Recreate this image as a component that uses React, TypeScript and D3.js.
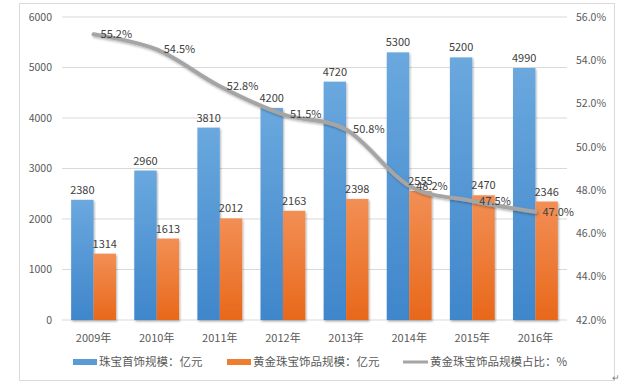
import React from 'react';
import * as d3 from 'd3';

const years = ['2009年', '2010年', '2011年', '2012年', '2013年', '2014年', '2015年', '2016年'];
const jewelryScale = [2380, 2960, 3810, 4200, 4720, 5300, 5200, 4990];
const goldScale = [1314, 1613, 2012, 2163, 2398, 2555, 2470, 2346];
const goldShare = [55.2, 54.5, 52.8, 51.5, 50.8, 48.2, 47.5, 47.0];
const leftTicks = [0, 1000, 2000, 3000, 4000, 5000, 6000];
const rightTicks = [42, 44, 46, 48, 50, 52, 54, 56];
const legendLabels = ['珠宝首饰规模：亿元', '黄金珠宝饰品规模：亿元', '黄金珠宝饰品规模占比：%'];

const width = 626;
const height = 384;
const plot = { left: 62, right: 567, top: 17, bottom: 320 };
const font = '"Noto Sans CJK SC", "Noto Sans", sans-serif';
const textColor = '#595959';

const App = () => {
  const x = d3.scaleBand().domain(years).range([plot.left, plot.right]).paddingInner(0.29).paddingOuter(0.145);
  const yLeft = d3.scaleLinear().domain([0, 6000]).range([plot.bottom, plot.top]);
  const yRight = d3.scaleLinear().domain([42, 56]).range([plot.bottom, plot.top]);
  const barW = x.bandwidth() / 2;
  const cx = (y: string) => (x(y) as number) + x.bandwidth() / 2;

  // excel-style smoothed line
  const line = d3.line<number>()
    .x((_, i) => cx(years[i]))
    .y(d => yRight(d))
    .curve(d3.curveCatmullRom.alpha(0));

  return (
    <svg width={width} height={height} style={{ position: 'absolute', left: 0, top: 0 }}
      fontFamily={font}>
      <defs>
        <linearGradient id="gBlue" x1="0" y1="0" x2="0" y2="1">
          <stop offset="0" stopColor="#6AA8DE" />
          <stop offset="1" stopColor="#3F86CB" />
        </linearGradient>
        <linearGradient id="gOrange" x1="0" y1="0" x2="0" y2="1">
          <stop offset="0" stopColor="#F28F55" />
          <stop offset="1" stopColor="#E8681A" />
        </linearGradient>
        <filter id="shadow" x="-10%" y="-10%" width="120%" height="140%">
          <feDropShadow dx="1" dy="1.5" stdDeviation="1.2" floodColor="#000" floodOpacity="0.3" />
        </filter>
      </defs>
      <rect x={19.5} y={3.5} width={595} height={377} fill="#fff" stroke="#D9D9D9" />

      {leftTicks.map(t => (
        <g key={t}>
          <line x1={plot.left} x2={plot.right} y1={yLeft(t)} y2={yLeft(t)} stroke="#D9D9D9" />
          <text x={52} y={yLeft(t)} dy="0.35em" textAnchor="end" fontSize={10.5} fill={textColor}>{t}</text>
        </g>
      ))}
      {rightTicks.map(t => (
        <text key={t} x={576} y={yRight(t)} dy="0.35em" fontSize={10.5} fill={textColor}>{t.toFixed(1)}%</text>
      ))}

      {years.map((yr, i) => (
        <g key={yr}>
          <rect x={x(yr)} y={yLeft(jewelryScale[i])} width={barW} height={plot.bottom - yLeft(jewelryScale[i])}
            fill="url(#gBlue)" filter="url(#shadow)" />
          <rect x={(x(yr) as number) + barW} y={yLeft(goldScale[i])} width={barW} height={plot.bottom - yLeft(goldScale[i])}
            fill="url(#gOrange)" filter="url(#shadow)" />
          <text x={cx(yr)} y={338} dy="0.35em" textAnchor="middle" fontSize={11} fill={textColor}>{yr}</text>
        </g>
      ))}

      <path d={line(goldShare) || ''} fill="none" stroke="#A5A5A5" strokeWidth={4} strokeLinejoin="round"
        strokeLinecap="round" filter="url(#shadow)" />

      {years.map((yr, i) => (
        <g key={'lbl' + yr} fontSize={11} fill="#404040">
          <text x={(x(yr) as number) + barW / 2} y={yLeft(jewelryScale[i]) - 6} textAnchor="middle">{jewelryScale[i]}</text>
          <text x={(x(yr) as number) + barW * 1.5} y={yLeft(goldScale[i]) - 6} textAnchor="middle">{goldScale[i]}</text>
          <text x={cx(yr) + 7} y={yRight(goldShare[i])} dy="0.35em">{goldShare[i].toFixed(1)}%</text>
        </g>
      ))}

      <g fontSize={11.5} fill={textColor}>
        <rect x={73} y={359} width={24} height={6} fill="#5B9BD5" />
        <text x={99} y={362} dy="0.38em">{legendLabels[0]}</text>
        <rect x={227} y={359} width={24} height={6} fill="#ED7D31" />
        <text x={253} y={362} dy="0.38em">{legendLabels[1]}</text>
        <line x1={403} x2={428} y1={362} y2={362} stroke="#A5A5A5" strokeWidth={3} />
        <text x={430} y={362} dy="0.38em">{legendLabels[2]}</text>
      </g>
      <text x={612} y={381} fontSize={9} fill="#808080">↵</text>
    </svg>
  );
};

export default App;
